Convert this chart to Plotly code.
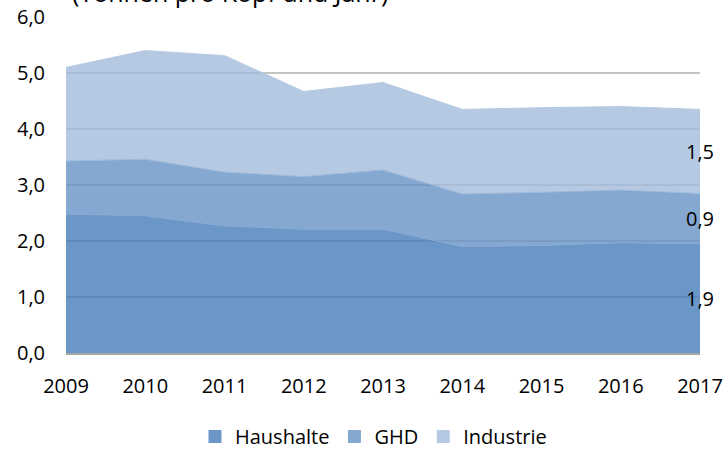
import plotly.graph_objects as go

years = [2009, 2010, 2011, 2012, 2013, 2014, 2015, 2016, 2017]
haushalte = [2.48, 2.45, 2.27, 2.21, 2.21, 1.90, 1.92, 1.97, 1.95]
ghd = [0.95, 1.01, 0.96, 0.94, 1.06, 0.94, 0.95, 0.94, 0.90]
industrie = [1.67, 1.94, 2.08, 1.52, 1.56, 1.51, 1.51, 1.49, 1.50]
series_names = ["Haushalte", "GHD", "Industrie"]
legend_colors = ["#6A96C8", "#85A8D0", "#B5C9E2"]
fill_colors = ["rgba(69,124,186,0.8)", "rgba(103,146,196,0.8)", "rgba(163,188,219,0.8)"]
edge_colors = ["#86A9D2", "#9DB8DA", "#B5C9E2"]
y_ticks = [0, 1, 2, 3, 4, 5, 6]
y_tick_labels = ["0,0", "1,0", "2,0", "3,0", "4,0", "5,0", "6,0"]
title_text = "(Tonnen pro Kopf und Jahr)"

font = "Open Sans"
fig = go.Figure()
for name, vals, fc, ec in zip(series_names, [haushalte, ghd, industrie], fill_colors, edge_colors):
    fig.add_trace(go.Scatter(
        x=years, y=vals, name=name, mode="lines", stackgroup="one",
        line=dict(width=1, color=ec), fillcolor=fc, showlegend=False,
    ))
# legend-only entries with square symbols
for name, c in zip(series_names, legend_colors):
    fig.add_trace(go.Scatter(x=[None], y=[None], mode="markers", name=name,
                             marker=dict(symbol="square", size=13, color=c)))

# end labels, centered in each stacked band at the last year
cum = 0
for vals in [haushalte, ghd, industrie]:
    v = vals[-1]
    fig.add_annotation(x=years[-1], y=cum + v / 2, text=f"{v:.1f}".replace(".", ","),
                       showarrow=False, xanchor="center", yanchor="middle",
                       font=dict(family=font, size=20, color="#000000"))
    cum += v

fig.add_annotation(xref="paper", yref="paper", x=0.259, y=1.074, text=title_text,
                   showarrow=False, xanchor="center", yanchor="middle",
                   font=dict(family=font, size=25, color="#000000"))

fig.update_layout(
    width=724, height=450,
    margin=dict(l=66, r=24, t=17, b=97, autoexpand=False),
    paper_bgcolor="white", plot_bgcolor="white",
    font=dict(family=font, size=20, color="#000000"),
    showlegend=True,
    legend=dict(orientation="h", x=0.485, xanchor="center",
                yref="container", y=0.03, yanchor="middle",
                font=dict(family=font, size=20), traceorder="normal",
                itemwidth=30, bgcolor="rgba(0,0,0,0)"),
)
fig.update_xaxes(range=[2009, 2017], tickmode="array", tickvals=years,
                 ticktext=[str(y) for y in years], showgrid=False, zeroline=False,
                 showline=True, linecolor="#A6A6A6", linewidth=1.5, ticks="",
                 layer="above traces", ticklabelstandoff=14, automargin=False)
fig.update_yaxes(range=[0, 6], tickmode="array", tickvals=y_ticks, ticktext=y_tick_labels,
                 showgrid=True, gridcolor="#C4C4C4", gridwidth=1.5,
                 zeroline=False, ticks="", ticklabelstandoff=20, automargin=False)

fig.write_html("out.html", config={"displayModeBar": False},
               post_script="document.body.style.margin='0';")
